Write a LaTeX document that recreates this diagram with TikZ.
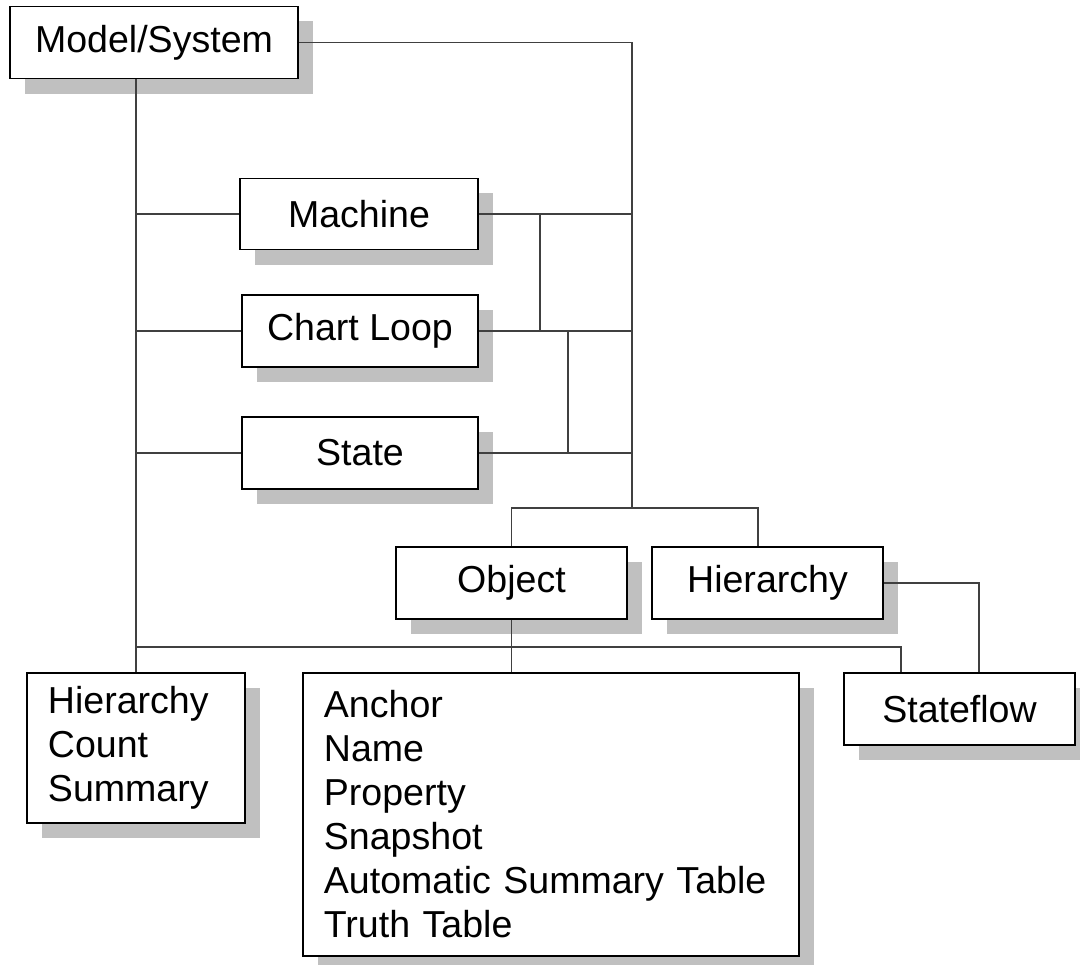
\documentclass[tikz,border=0pt]{standalone}
\usepackage{fontspec}
\setmainfont{Liberation Sans}
\usepackage{tikz}
\usetikzlibrary{shadows, calc}
\definecolor{shadegray}{RGB}{192,192,192}
\definecolor{linegray}{RGB}{64,64,64}
\tikzstyle{box} = [rectangle,
draw=black,
line width=1.4pt,
fill=white,
inner sep=0pt,
text centered,
drop shadow={shadow xshift=0.375cm, shadow yshift=-0.375cm, fill=shadegray, opacity=1}]
\tikzstyle{listbox} = [box, align=left]
\tikzstyle{wire} = [draw=linegray, line width=1.3pt]

\begin{document}
\begin{tikzpicture}[x=0.025cm, y=-0.025cm, font=\fontsize{26.7}{31.3}\selectfont]
            \useasboundingbox (0,0) rectangle (1080,965);

            \node (sys) [box, minimum width=7.2cm, minimum height=1.8cm] at (154,42.5) {Model/System};
            \node (machine) [box, minimum width=5.95cm, minimum height=1.775cm] at (359,214) {Machine};
            \node (loop) [box, minimum width=5.9cm, minimum height=1.8cm] at (360,331) {Chart Loop};
            \node (state) [box, minimum width=5.9cm, minimum height=1.8cm] at (360,453) {State};
            \node (obj) [box, minimum width=5.775cm, minimum height=1.8cm] at (511.5,583) {Object};
            \node (hier) [box, minimum width=5.775cm, minimum height=1.8cm] at (767.5,583) {Hierarchy};
            \node (count) [listbox, minimum width=5.45cm, minimum height=3.75cm, text width=4.4cm] at (136,748) {Hierarchy\\Count\\Summary};
            \node (attr) [listbox, minimum width=12.4cm, minimum height=7.075cm, text width=11.35cm] at (551,814.5) {Anchor\\Name\\Property\\Snapshot\\Automatic Summary Table\\Truth Table};
            \node (sflow) [box, minimum width=5.775cm, minimum height=1.8cm] at (959.5,709) {Stateflow};

            % junction points
            \coordinate (fork) at (632,508);
            \coordinate (forkR) at (758,508);
            \coordinate (tieA) at (540,0);
            \coordinate (tieB) at (568,0);
            \coordinate (bus) at (136,647);
            \coordinate (busR) at (901,647);
            \coordinate (turn) at (979,583);

            \draw [wire] (sys.east) -| (fork);
            \draw [wire] (sys.south -| count.north) -- (count.north);
            \draw [wire] (machine.west) -- (machine.west -| count.north);
            \draw [wire] (loop.west) -- (loop.west -| count.north);
            \draw [wire] (state.west) -- (state.west -| count.north);
            \draw [wire] (machine.east) -- (machine.east -| fork);
            \draw [wire] (loop.east) -- (loop.east -| fork);
            \draw [wire] (state.east) -- (state.east -| fork);
            \draw [wire] (machine.east -| tieA) -- (loop.east -| tieA);
            \draw [wire] (loop.east -| tieB) -- (state.east -| tieB);
            \draw [wire] (obj.north) |- (forkR) -- (forkR |- hier.north);
            \draw [wire] (obj.south) -- (obj.south |- attr.north);
            \draw [wire] (bus) -- (busR) -- (busR |- sflow.north);
            \draw [wire] (hier.east) -- (turn) -- (turn |- sflow.north);
        \end{tikzpicture}
\end{document}
